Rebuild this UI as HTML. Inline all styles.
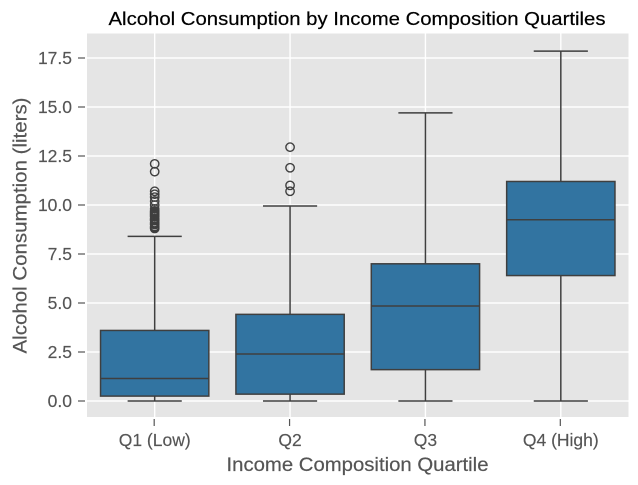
<!DOCTYPE html>
<html>
<head>
<meta charset="utf-8">
<title>Alcohol Consumption by Income Composition Quartiles</title>
<style>
html,body{margin:0;padding:0;background:#fff;width:638px;height:485px;overflow:hidden}
svg{display:block}
text{font-family:"Liberation Sans",sans-serif}
</style>
</head>
<body>
<svg id="chart" width="638" height="485" viewBox="0 0 638 485" xmlns="http://www.w3.org/2000/svg">
<rect x="87" y="33.5" width="541.5" height="383.5" fill="#e5e5e5"/>
<g id="grid"></g>
<g id="boxes"></g>
<g id="axes"></g>
<text x="357" y="25" text-anchor="middle" font-size="18.5" fill="#000" stroke="#000" stroke-width="0.2" textLength="497" lengthAdjust="spacingAndGlyphs">Alcohol Consumption by Income Composition Quartiles</text>
<text x="357.5" y="471" text-anchor="middle" font-size="19" fill="#555" stroke="#555" stroke-width="0.2" textLength="262" lengthAdjust="spacingAndGlyphs">Income Composition Quartile</text>
<text transform="translate(26.5 225.5) rotate(-90)" text-anchor="middle" font-size="19" fill="#555" stroke="#555" stroke-width="0.2" textLength="256" lengthAdjust="spacingAndGlyphs">Alcohol Consumption (liters)</text>
</svg>
<script>
const categories = ['Q1 (Low)', 'Q2', 'Q3', 'Q4 (High)'];
const whiskerLow = [0, 0, 0, 0];
const quartile1 = [0.25, 0.35, 1.6, 6.4];
const medians = [1.15, 2.4, 4.85, 9.25];
const quartile3 = [3.6, 4.42, 7.0, 11.2];
const whiskerHigh = [8.4, 9.95, 14.7, 17.85];
const fliersQ1 = [8.8, 8.85, 8.9, 9.0, 9.05, 9.1, 9.2, 9.25, 9.3, 9.4, 9.45, 9.5, 9.55, 9.6, 9.65, 9.7, 9.8, 10.0, 10.2, 10.4, 10.55, 10.7, 11.7, 12.1];
const fliersQ2 = [10.7, 11.0, 11.9, 12.95];
const fliersQ3 = [];
const fliersQ4 = [];
const fliers = [fliersQ1, fliersQ2, fliersQ3, fliersQ4];
const yTicks = [0, 2.5, 5, 7.5, 10, 12.5, 15, 17.5];
const yTickLabels = ['0.0', '2.5', '5.0', '7.5', '10.0', '12.5', '15.0', '17.5'];

const NS = 'http://www.w3.org/2000/svg';
const plotLeft = 87, plotRight = 628.5, plotTop = 33.5, plotBottom = 417;
const xStep = (plotRight - plotLeft) / categories.length;
function xScale(i) { return plotLeft + xStep * (i + 0.5); }
function yScale(v) { return 401 - v * 19.6; }
function add(parent, tag, attrs) {
  const el = document.createElementNS(NS, tag);
  for (const k in attrs) el.setAttribute(k, attrs[k]);
  parent.appendChild(el);
  return el;
}
const gridG = document.getElementById('grid');
const boxG = document.getElementById('boxes');
const axesG = document.getElementById('axes');
const edge = '#3f3f3f';

yTicks.forEach(function (t, i) {
  const y = yScale(t);
  const g = add(gridG, 'line', { x1: plotLeft, x2: plotRight, y1: y, y2: y, stroke: '#fff', 'stroke-width': 1.4 });
  
  
  const tk = add(axesG, 'line', { x1: 78, x2: 85, y1: y, y2: y, stroke: '#555', 'stroke-width': 1.2 });
  
  
  const lb = add(axesG, 'text', { x: 72, y: y + 6.2, 'text-anchor': 'end', 'font-size': 17.5, fill: '#555', stroke: '#555', 'stroke-width': 0.15 });
  
  
  lb.textContent = yTickLabels[i];
});

categories.forEach(function (c, i) {
  const x = xScale(i);
  const g = add(gridG, 'line', { x1: x, x2: x, y1: plotTop, y2: plotBottom, stroke: '#fff', 'stroke-width': 1.4 });
  
  
  const tk = add(axesG, 'line', { x1: x - 0.5, x2: x - 0.5, y1: 419, y2: 426, stroke: '#555', 'stroke-width': 1.2 });
  
  
  const lb = add(axesG, 'text', { x: x, y: 446, 'text-anchor': 'middle', 'font-size': 17.5, fill: '#555', stroke: '#555', 'stroke-width': 0.15 });
  
  
  lb.textContent = c;

  const halfBox = xStep * 0.4, halfCap = xStep * 0.2;
  const lo = add(boxG, 'line', { x1: x, x2: x, y1: yScale(whiskerLow[i]), y2: yScale(quartile1[i]), stroke: edge, 'stroke-width': 1.5 });
  
  
  const hi = add(boxG, 'line', { x1: x, x2: x, y1: yScale(whiskerHigh[i]), y2: yScale(quartile3[i]), stroke: edge, 'stroke-width': 1.5 });
  
  
  const capLo = add(boxG, 'line', { x1: x - halfCap, x2: x + halfCap, y1: yScale(whiskerLow[i]), y2: yScale(whiskerLow[i]), stroke: edge, 'stroke-width': 1.5 });
  
  
  const capHi = add(boxG, 'line', { x1: x - halfCap, x2: x + halfCap, y1: yScale(whiskerHigh[i]), y2: yScale(whiskerHigh[i]), stroke: edge, 'stroke-width': 1.5 });
  
  
  const box = add(boxG, 'rect', { x: x - halfBox, y: yScale(quartile3[i]), width: halfBox * 2, height: yScale(quartile1[i]) - yScale(quartile3[i]), fill: '#3274a1', stroke: edge, 'stroke-width': 1.5 });
  
  
  const med = add(boxG, 'line', { x1: x - halfBox, x2: x + halfBox, y1: yScale(medians[i]), y2: yScale(medians[i]), stroke: edge, 'stroke-width': 1.5 });
  
  
  fliers[i].forEach(function (v) {
    const p = add(boxG, 'circle', { cx: x, cy: yScale(v), r: 4.2, fill: 'none', stroke: edge, 'stroke-width': 1.4 });
    
    
  });
});
</script>
</body>
</html>
